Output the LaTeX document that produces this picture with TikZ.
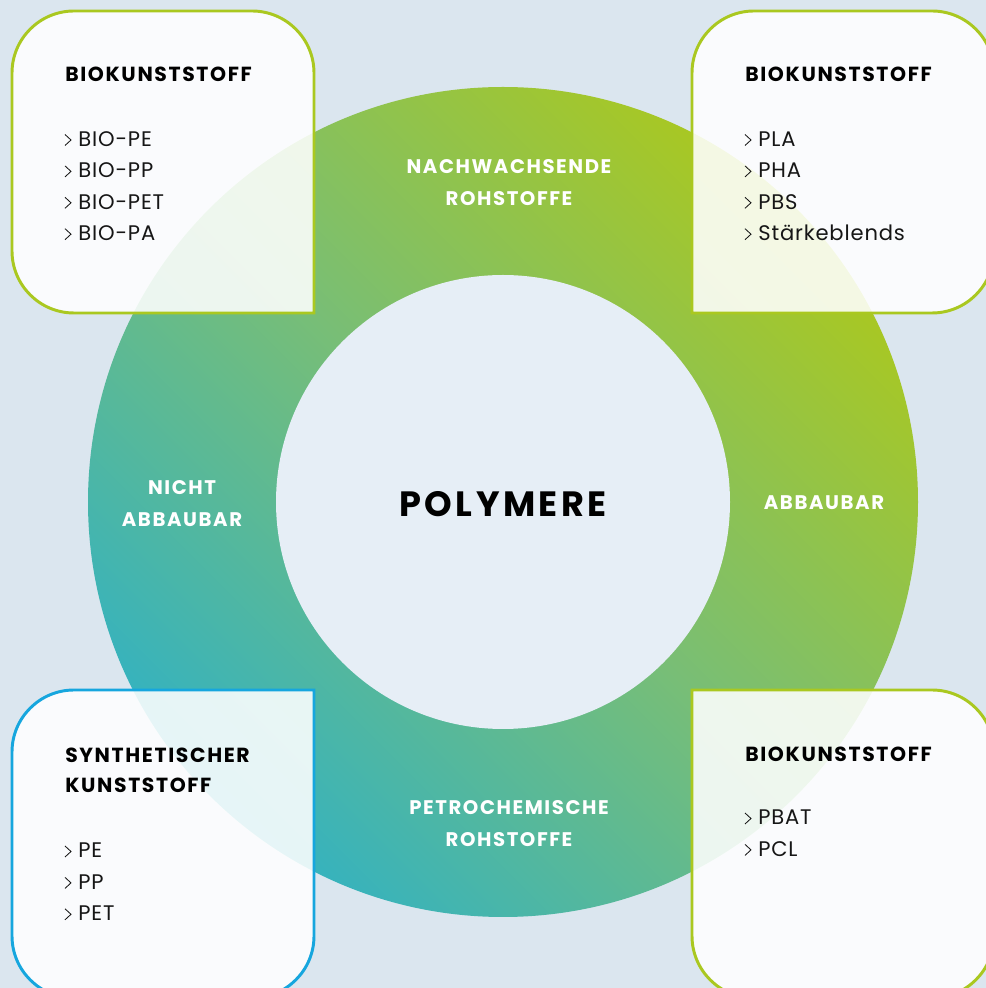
\documentclass[tikz,border=0pt]{standalone}
\usepackage[RGB]{xcolor}
\usepackage{fontspec}
\setmainfont{Poppins}
\usepackage{tikz}
\definecolor{BG}{RGB}{219,230,239}
\definecolor{IN}{RGB}{230,238,246}
\definecolor{GR}{RGB}{170,200,32}
\definecolor{MI}{RGB}{120,190,118}
\definecolor{TE}{RGB}{52,178,192}
\definecolor{BL}{RGB}{22,166,222}
\definecolor{TX}{RGB}{22,22,22}
\newcommand{\drawcard}{\draw[line width=2.1pt, fill=white, fill opacity=.88]}
\newcommand{\cardhead}[4]{\node[anchor=base west, inner sep=0, align=left, font=\fontsize{14.5}{22}\selectfont\bfseries\addfontfeatures{LetterSpace=8}] (#1) at (#2,#3) {#4};}
\newcommand{\cardlist}[4]{
    \foreach \t [count=\i from 0] in {#4}{
    \draw[line width=.6pt, TX] (#2-13,#3+12-31.4*\i)--++(6,-5.5)--++(-6,-5.5);
    \node[anchor=base west, inner sep=0, text=TX, font=\fontsize{15}{18}\selectfont\addfontfeatures{LetterSpace=4}] (#1-\i) at (#2,#3-31.4*\i) {\t};
    }
}
\tikzset{ringlabel/.style={anchor=base, align=center, text=white, font=\fontsize{14}{23.4}\selectfont\bfseries\addfontfeatures{LetterSpace=8}}}

\begin{document}
\begin{tikzpicture}[x=0.025cm, y=0.025cm]
\useasboundingbox (0,0) rectangle (986,988);
\clip (0,0) rectangle (986,988);
\fill[BG] (0,0) rectangle (986,988);
% ring and centre
\shade[bottom color=TE, top color=GR, middle color=MI, shading angle=-45] (503,486) circle[radius=415];
\fill[IN] (503,486) circle[radius=227];
\node[anchor=base, font=\fontsize{25}{30}\selectfont\bfseries\addfontfeatures{LetterSpace=10}] (poly) at (503,471) {POLYMERE};
\node[ringlabel] (nawa) at (509,782) {NACHWACHSENDE\\ROHSTOFFE};
\node[ringlabel] (petro) at (509,141) {PETROCHEMISCHE\\ROHSTOFFE};
\node[ringlabel] (nicht) at (182,461) {NICHT\\ABBAUBAR};
\node[ringlabel] (abb) at (824,478) {ABBAUBAR};
% cards
\drawcard[draw=GR] (314,675)--(74,675) arc[start angle=270, end angle=180, radius=62]--(12,915) arc[start angle=180, end angle=90, radius=62]--(252,977) arc[start angle=90, end angle=0, radius=62]--cycle;
\drawcard[draw=GR] (692,675)--(692,915) arc[start angle=180, end angle=90, radius=62]--(932,977) arc[start angle=90, end angle=0, radius=62]--(994,737) arc[start angle=0, end angle=-90, radius=62]--cycle;
\drawcard[draw=BL] (314,298)--(314,52) arc[start angle=0, end angle=-90, radius=62]--(74,-10) arc[start angle=270, end angle=180, radius=62]--(12,236) arc[start angle=180, end angle=90, radius=62]--cycle;
\drawcard[draw=GR] (692,298)--(932,298) arc[start angle=90, end angle=0, radius=62]--(994,52) arc[start angle=0, end angle=-90, radius=62]--(754,-10) arc[start angle=270, end angle=180, radius=62]--cycle;
% card texts
\cardhead{tlh}{65}{906}{BIOKUNSTSTOFF}
\cardlist{tl}{78}{841.5}{BIO-PE,BIO-PP,BIO-PET,BIO-PA}
\cardhead{trh}{745}{906}{BIOKUNSTSTOFF}
\cardlist{tr}{758}{841.5}{PLA,PHA,PBS,Stärkeblends}
\cardhead{blh}{65}{195}{SYNTHETISCHER\\KUNSTSTOFF}
\cardlist{bl}{78}{130}{PE,PP,PET}
\cardhead{brh}{745}{226}{BIOKUNSTSTOFF}
\cardlist{br}{758}{163}{PBAT,PCL}
\end{tikzpicture}
\end{document}
